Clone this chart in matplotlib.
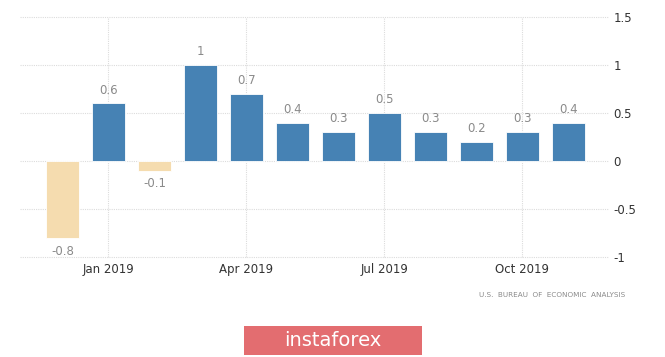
import matplotlib
matplotlib.use("Agg")
import matplotlib.pyplot as plt
from matplotlib.patches import Rectangle

months = ["Dec 2018", "Jan 2019", "Feb 2019", "Mar 2019", "Apr 2019", "May 2019",
          "Jun 2019", "Jul 2019", "Aug 2019", "Sep 2019", "Oct 2019", "Nov 2019"]
values = [-0.8, 0.6, -0.1, 1.0, 0.7, 0.4, 0.3, 0.5, 0.3, 0.2, 0.3, 0.4]
value_labels = ["-0.8", "0.6", "-0.1", "1", "0.7", "0.4", "0.3", "0.5", "0.3", "0.2", "0.3", "0.4"]
xtick_labels = ["Jan 2019", "Apr 2019", "Jul 2019", "Oct 2019"]
yticks = [-1, -0.5, 0, 0.5, 1, 1.5]
ytick_labels = ["-1", "-0.5", "0", "0.5", "1", "1.5"]

W, H = 665, 357
fig = plt.figure(figsize=(W / 100, H / 100), dpi=100)
ax = fig.add_axes([20 / W, 1 - 257 / H, 588 / W, 240 / H])

x = list(range(len(values)))
colors = ["#4682B4" if v >= 0 else "#F5DCAF" for v in values]
ax.bar(x, values, width=0.72, color=colors, edgecolor="white", linewidth=0.6, zorder=3)

for xi, v, lab in zip(x, values, value_labels):
    if v >= 0:
        ax.text(xi, v + 0.07, lab, ha="center", va="bottom", fontsize=8.5, color="#8a8a8a")
    else:
        ax.text(xi, v - 0.07, lab, ha="center", va="top", fontsize=8.5, color="#8a8a8a")

ax.set_xlim(-0.924, 11.86)
ax.set_ylim(-1.0, 1.5)

xt = [months.index(m) for m in xtick_labels]
ax.set_xticks(xt)
ax.set_xticklabels(xtick_labels, fontsize=8.5, color="#333333")
ax.set_yticks(yticks)
ax.set_yticklabels(ytick_labels, fontsize=8.5, color="#333333")
ax.yaxis.tick_right()
ax.tick_params(axis="both", length=0)
ax.tick_params(axis="y", pad=4)
ax.tick_params(axis="x", pad=4)

ax.grid(True, color="#dcdcdc", linestyle=(0, (1, 1)), linewidth=0.8, zorder=0)
ax.set_axisbelow(True)
for s in ax.spines.values():
    s.set_visible(False)
for gl in ax.get_xgridlines() + ax.get_ygridlines():
    gl.set_clip_on(False)

fig.text(625 / W, 1 - 295 / H, "U.S.  BUREAU  OF  ECONOMIC  ANALYSIS", ha="right", va="center",
         fontsize=5.2, color="#8a8a8a")

fig.patches.append(Rectangle((244 / W, 1 - 355 / H), 178 / W, 29 / H,
                             transform=fig.transFigure, facecolor="#E36D70",
                             edgecolor="none"))
fig.text(333 / W, 1 - 341 / H, "instaforex", ha="center", va="center",
         fontsize=14, color="white")

fig.savefig("out.png", dpi=100)
